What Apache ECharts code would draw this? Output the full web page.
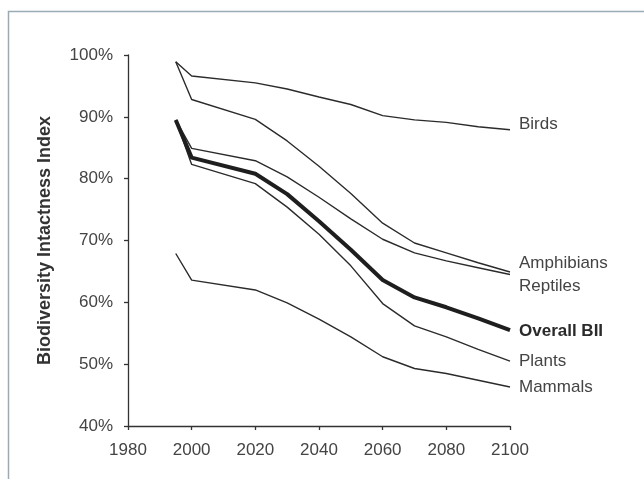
<!DOCTYPE html>
<html>
<head>
<meta charset="utf-8">
<script src="https://cdn.jsdelivr.net/npm/echarts@6/dist/echarts.min.js"></script>
<style>
  html, body { margin: 0; padding: 0; background: #fff; }
  #chart { width: 644px; height: 479px; }
</style>
</head>
<body>
<div id="chart"></div>
<script>
;(function(){

  // years sampled by the model runs
  var years = [1995, 2000, 2020, 2030, 2040, 2050, 2060, 2070, 2080, 2090, 2100];

  // index values (%) per taxon
  var birds      = [98.9, 96.6, 95.5, 94.5, 93.2, 92.0, 90.2, 89.5, 89.1, 88.4, 87.9];
  var amphibians = [98.9, 92.8, 89.6, 86.1, 82.0, 77.6, 72.8, 69.6, 68.0, 66.4, 64.9];
  var reptiles   = [89.5, 84.9, 82.9, 80.3, 77.0, 73.5, 70.2, 68.0, 66.7, 65.6, 64.5];
  var overall    = [89.5, 83.4, 80.8, 77.5, 73.1, 68.5, 63.6, 60.8, 59.2, 57.4, 55.5];
  var plants     = [89.5, 82.3, 79.2, 75.4, 71.0, 65.9, 59.8, 56.2, 54.4, 52.4, 50.5];
  var mammals    = [67.9, 63.6, 62.0, 59.9, 57.3, 54.4, 51.2, 49.3, 48.5, 47.4, 46.3];

  var yTicks = [40, 50, 60, 70, 80, 90, 100];

  var font = 'Liberation Sans, Arial, sans-serif';

  function pairs(vals) {
    return years.map(function(y, i){ return [y, vals[i]]; });
  }

  function makeSeries(name, vals, width, dy, bold) {
    return {
      name: name,
      type: 'line',
      data: pairs(vals),
      symbol: 'none',
      animation: false,
      lineStyle: { color: bold ? '#1e1e1e' : '#2b2b2b', width: width },
      endLabel: {
        show: true,
        formatter: name,
        distance: 9,
        offset: [0, dy],
        fontFamily: font,
        fontSize: 17,
        fontWeight: bold ? 'bold' : 'normal',
        color: bold ? '#2a2a2a' : '#444'
      }
    };
  }

  var myChart = echarts.init(document.getElementById('chart'));

  var option = {
    backgroundColor: '#fff',
    animation: false,
    graphic: [{
      type: 'rect',
      shape: { x: 8.5, y: 11.5, width: 700, height: 520 },
      style: { fill: 'none', stroke: '#9aabb8', lineWidth: 1.5 }
    }],
    grid: { left: 128, right: 134, top: 55, bottom: 53 },
    xAxis: {
      type: 'value',
      min: 1980,
      max: 2100,
      interval: 20,
      splitLine: { show: false },
      axisLine: { lineStyle: { color: '#333', width: 1.3 } },
      axisTick: { length: 4, lineStyle: { color: '#333', width: 1.3 } },
      axisLabel: {
        margin: 16,
        formatter: function(v){ return String(v); },
        fontFamily: font,
        fontSize: 17,
        color: '#444'
      }
    },
    yAxis: {
      type: 'value',
      min: yTicks[0],
      max: yTicks[yTicks.length - 1],
      interval: 10,
      name: 'Biodiversity Intactness Index',
      nameLocation: 'middle',
      nameGap: 74,
      nameTextStyle: {
        fontFamily: font,
        fontSize: 18,
        fontWeight: 'bold',
        color: '#333'
      },
      splitLine: { show: false },
      axisLine: { show: true, lineStyle: { color: '#333', width: 1.3 } },
      axisTick: { show: true, length: 4, lineStyle: { color: '#333', width: 1.3 } },
      axisLabel: {
        margin: 15,
        formatter: '{value}%',
        fontFamily: font,
        fontSize: 17,
        color: '#444'
      }
    },
    series: [
      makeSeries('Birds', birds, 1.4, -6, false),
      makeSeries('Amphibians', amphibians, 1.4, -9, false),
      makeSeries('Reptiles', reptiles, 1.4, 12, false),
      makeSeries('Plants', plants, 1.4, 0, false),
      makeSeries('Mammals', mammals, 1.4, 0, false),
      makeSeries('Overall BII', overall, 4, 1, true)
    ]
  };

  myChart.setOption(option);

})();
</script>
</body>
</html>
